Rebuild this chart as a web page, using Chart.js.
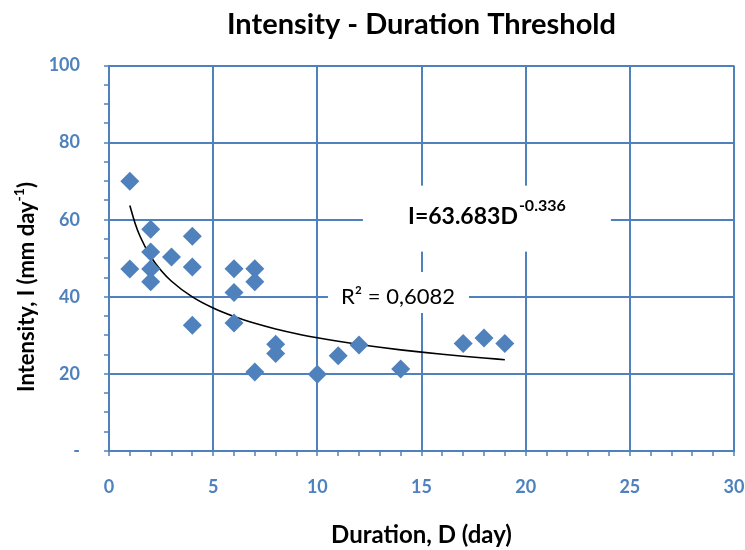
<!DOCTYPE html>
<html>
<head>
<meta charset="utf-8">
<script src="https://cdn.jsdelivr.net/npm/chart.js@4.4.1/dist/chart.umd.min.js"></script>
<style>
  body { margin: 0; background: #ffffff; }
  #chart { display: block; }
</style>
</head>
<body>
<canvas id="chart" width="745" height="550"></canvas>
<script>
// observed events
const durations = [1, 1, 2, 2, 2, 2, 3, 4, 4, 4, 6, 6, 6, 7, 7, 7, 8, 8, 10, 11, 12, 14, 17, 18, 19];
const intensities = [70, 47.2, 57.5, 51.6, 47.2, 43.9, 50.3, 55.7, 47.7, 32.6, 47.3, 41.1, 33.2, 47.3, 43.9, 20.5, 27.7, 25.3, 19.9, 24.7, 27.5, 21.3, 27.9, 29.3, 27.9];

// power trendline
const trendD = [1, 1.25, 1.5, 2, 2.5, 3, 4, 5, 6, 7, 8, 9, 10, 11, 12, 13, 14, 15, 16, 17, 18, 19];
const trendI = [63.68, 59.09, 55.57, 50.46, 46.81, 44.03, 39.97, 37.08, 34.88, 33.12, 31.66, 30.43, 29.38, 28.45, 27.63, 26.9, 26.24, 25.64, 25.09, 24.58, 24.11, 23.68];

const chartTitle = "Intensity - Duration Threshold";
const equationText = "I=63.683D";
const equationExp = "-0.336";
const r2Text = "R\u00B2 = 0,6082";

const blue = "#4F81BD";
const font = "Lato";

const points = durations.map((d, i) => ({ x: d, y: intensities[i] }));
const trend = trendD.map((d, i) => ({ x: d, y: trendI[i] }));

// title over the plot, y title with superscript and the two text boxes
const extras = {
  id: "extras",
  afterDatasetsDraw(chart) {
    const ctx = chart.ctx;
    const xs = chart.scales.x;
    const ys = chart.scales.y;
    const area = chart.chartArea;
    ctx.save();

    // chart title, centred on the plot area
    ctx.fillStyle = "#000000";
    ctx.font = "bold 29px " + font;
    ctx.textAlign = "center";
    ctx.textBaseline = "alphabetic";
    ctx.fillText(chartTitle, (area.left + area.right) / 2, 33.5);

    // equation box
    let cx = xs.getPixelForValue(18.14);
    let cy = ys.getPixelForValue(61.05);
    ctx.fillStyle = "#ffffff";
    ctx.fillRect(cx - 124, cy - 30, 248, 66);
    ctx.fillStyle = "#000000";
    ctx.textAlign = "left";
    ctx.font = "bold 23px " + font;
    const w1 = ctx.measureText(equationText).width;
    ctx.font = "bold 16px " + font;
    const w2 = ctx.measureText(equationExp).width;
    let left = cx - (w1 + w2 + 1) / 2;
    ctx.font = "bold 23px " + font;
    ctx.fillText(equationText, left, cy + 8);
    ctx.font = "bold 16px " + font;
    ctx.fillText(equationExp, left + w1 + 1, cy - 5);

    // R squared box
    cx = xs.getPixelForValue(13.87);
    cy = ys.getPixelForValue(40.2);
    ctx.fillStyle = "#ffffff";
    ctx.fillRect(cx - 70, cy - 24, 141, 41);
    ctx.fillStyle = "#000000";
    ctx.font = "22px " + font;
    ctx.textAlign = "center";
    ctx.textBaseline = "middle";
    ctx.fillText(r2Text, cx, cy + 1);

    // y axis title
    ctx.translate(27, 287);
    ctx.rotate(-Math.PI / 2);
    ctx.textAlign = "left";
    ctx.textBaseline = "middle";
    const t1 = "Intensity, I (mm day";
    const t2 = "-1";
    const t3 = ")";
    ctx.font = "bold 22px " + font;
    const a = ctx.measureText(t1).width;
    const c = ctx.measureText(t3).width;
    ctx.font = "bold 14px " + font;
    const b = ctx.measureText(t2).width;
    let x0 = -(a + b + c) / 2;
    ctx.font = "bold 22px " + font;
    ctx.fillText(t1, x0, 0);
    ctx.font = "bold 14px " + font;
    ctx.fillText(t2, x0 + a, -8);
    ctx.font = "bold 22px " + font;
    ctx.fillText(t3, x0 + a + b, 0);
    ctx.restore();
  }
};

const ctx = document.getElementById("chart").getContext("2d");
new Chart(ctx, {
  type: "scatter",
  data: {
    datasets: [
      {
        label: "Events",
        data: points,
        pointStyle: "rectRot",
        pointRadius: 9.5,
        backgroundColor: blue,
        borderColor: blue,
        borderWidth: 0
      },
      {
        type: "line",
        label: "Power trend",
        data: trend,
        showLine: true,
        pointRadius: 0,
        borderColor: "#000000",
        borderWidth: 1.6,
        cubicInterpolationMode: "monotone",
        fill: false
      }
    ]
  },
  options: {
    responsive: false,
    animation: false,
    devicePixelRatio: 1,
    layout: { padding: { left: 0, right: 11, top: 65.5, bottom: 0 } },
    plugins: {
      legend: { display: false },
      tooltip: { enabled: false },
      title: { display: false }
    },
    scales: {
      x: {
        type: "linear",
        min: 0,
        max: 30,
        afterFit: (scale) => {
          scale.height = 99;
          scale.paddingLeft = 0;
          scale.paddingRight = 0;
        },
        ticks: {
          stepSize: 1,
          autoSkip: false,
          maxRotation: 0,
          padding: 20,
          color: blue,
          font: { family: font, size: 18, weight: "bold" },
          callback: (v) => (v % 5 === 0 ? v : "")
        },
        grid: {
          color: (c) => (c.tick && c.tick.value % 5 === 0 ? blue : "rgba(0,0,0,0)"),
          lineWidth: 2,
          tickColor: blue,
          tickLength: 5,
          tickWidth: 1.5
        },
        border: { color: blue, width: 2 },
        title: {
          display: true,
          text: "Duration, D (day)",
          color: "#000000",
          font: { family: font, size: 24, weight: "bold" },
          padding: { top: 0, bottom: 0 }
        }
      },
      y: {
        min: 0,
        max: 100,
        afterFit: (scale) => {
          scale.width = 109;
          scale.paddingTop = 0;
          scale.paddingBottom = 0;
        },
        ticks: {
          stepSize: 5,
          autoSkip: false,
          padding: 24,
          color: blue,
          font: { family: font, size: 18, weight: "bold" },
          callback: (v) => (v === 0 ? "-" : v % 20 === 0 ? v : "")
        },
        grid: {
          color: (c) => (c.tick && c.tick.value % 20 === 0 ? blue : "rgba(0,0,0,0)"),
          lineWidth: 2,
          tickColor: blue,
          tickLength: 5,
          tickWidth: 1.5
        },
        border: { color: blue, width: 2 }
      }
    }
  },
  plugins: [extras]
});
</script>
</body>
</html>
